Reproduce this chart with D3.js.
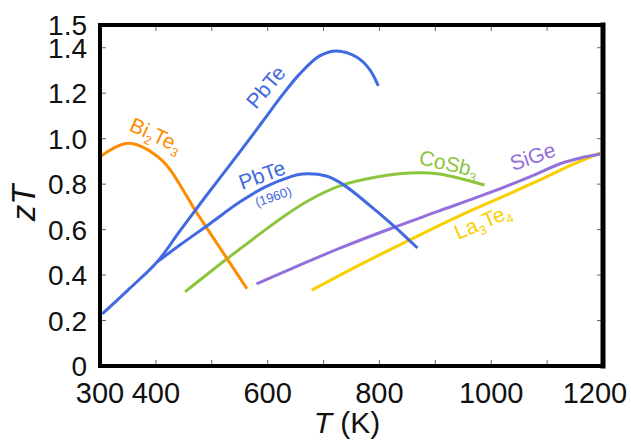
<!DOCTYPE html>
<html>
<head>
<meta charset="utf-8">
<script src="https://cdn.jsdelivr.net/npm/d3@7"></script>
<style>
	body { margin: 0; background: #fff; }
	svg text { font-family: "Liberation Sans", Arial, sans-serif; }
</style>
</head>
<body>
<svg id="chart" width="631" height="442"></svg>
<script>
	// values (T in K, zT)
	var pbteT = [304, 350, 402, 443, 487, 550, 589, 625, 657, 693, 723, 759, 782, 798];
	var pbteZT = [0.229, 0.334, 0.457, 0.594, 0.739, 0.941, 1.069, 1.188, 1.284, 1.364, 1.386, 1.359, 1.306, 1.232];

	var pbte1960T = [402, 443, 496, 550, 595, 639, 662, 705, 734, 782, 830, 868];
	var pbte1960ZT = [0.457, 0.532, 0.625, 0.721, 0.787, 0.831, 0.845, 0.836, 0.80, 0.708, 0.607, 0.519];

	var bi2te3T = [300, 350, 411, 452, 470, 493, 529, 563];
	var bi2te3ZT = [0.92, 0.98, 0.905, 0.76, 0.686, 0.60, 0.466, 0.34];

	var cosb3T = [452, 529, 586, 630, 675, 729, 795, 854, 907, 988];
	var cosb3ZT = [0.326, 0.475, 0.581, 0.660, 0.730, 0.792, 0.831, 0.849, 0.845, 0.796];

	var sigeT = [580, 645, 734, 823, 907, 991, 1068, 1127, 1166, 1195];
	var sigeZT = [0.361, 0.431, 0.523, 0.607, 0.682, 0.757, 0.831, 0.893, 0.919, 0.933];

	var la3te4T = [679, 764, 854, 943, 1032, 1098, 1148, 1195];
	var la3te4ZT = [0.334, 0.444, 0.554, 0.660, 0.757, 0.831, 0.889, 0.937];

	var xTickVals = [400, 500, 600, 700, 800, 900, 1000, 1100];
	var xLabelVals = [300, 400, 600, 800, 1000, 1200];
	var yTickVals = [0.2, 0.4, 0.6, 0.8, 1.0, 1.2, 1.4];
	var yLabelVals = [0, 0.2, 0.4, 0.6, 0.8, 1.0, 1.2, 1.4, 1.5];

	var margin = {top: 25, right: 28, bottom: 76, left: 100},
		width = 631 - margin.left - margin.right,
		height = 442 - margin.top - margin.bottom;

	var svg = d3.select('#chart');

	var x = d3.scaleLinear().domain([300, 1200]).range([margin.left, margin.left + width]);
	var y = d3.scaleLinear().domain([0, 1.5]).range([margin.top + height, margin.top]);

	function zip(ts, zs) {
		return ts.map(function (t, i) {
			return {t: t, z: zs[i]};
		});
	}

	var line = d3.line()
		.curve(d3.curveCatmullRom.alpha(0.5))
		.x(function (d) { return x(d.t); })
		.y(function (d) { return y(d.z); });

	var series = [
		{data: zip(cosb3T, cosb3ZT), color: '#8cc63f'},
		{data: zip(la3te4T, la3te4ZT), color: '#f9cf00'},
		{data: zip(sigeT, sigeZT), color: '#9370db'},
		{data: zip(bi2te3T, bi2te3ZT), color: '#ff8c00'},
		{data: zip(pbte1960T, pbte1960ZT), color: '#4169e1'},
		{data: zip(pbteT, pbteZT), color: '#4169e1'}
	];

	// ticks, inward on all four sides
	var tickLen = 6;
	var ticks = svg.append('g').attr('stroke', '#666').attr('stroke-width', 1);
	xTickVals.forEach(function (v) {
		ticks.append('line').attr('x1', x(v)).attr('x2', x(v))
			.attr('y1', y(0)).attr('y2', y(0) - tickLen);
		ticks.append('line').attr('x1', x(v)).attr('x2', x(v))
			.attr('y1', y(1.5)).attr('y2', y(1.5) + tickLen);
	});
	yTickVals.forEach(function (v) {
		ticks.append('line').attr('y1', y(v)).attr('y2', y(v))
			.attr('x1', x(300)).attr('x2', x(300) + tickLen);
		ticks.append('line').attr('y1', y(v)).attr('y2', y(v))
			.attr('x1', x(1200)).attr('x2', x(1200) - tickLen);
	});

	svg.append('g').selectAll('path')
		.data(series)
		.enter().append('path')
		.attr('fill', 'none')
		.attr('stroke', function (d) { return d.color; })
		.attr('stroke-width', 3)
		.attr('stroke-linejoin', 'round')
		.attr('d', function (d) { return line(d.data); });

	// frame
	var frame = svg.append('g').attr('stroke', '#000').attr('stroke-linecap', 'square');
	frame.append('line').attr('x1', x(300)).attr('x2', x(1200)).attr('y1', y(0)).attr('y2', y(0)).attr('stroke-width', 4);
	frame.append('line').attr('x1', x(300)).attr('x2', x(1200)).attr('y1', y(1.5)).attr('y2', y(1.5)).attr('stroke-width', 4);
	frame.append('line').attr('x1', x(300)).attr('x2', x(300)).attr('y1', y(0)).attr('y2', y(1.5)).attr('stroke-width', 4);
	frame.append('line').attr('x1', x(1200)).attr('x2', x(1200)).attr('y1', y(0)).attr('y2', y(1.5)).attr('stroke-width', 5);

	// tick labels
	svg.append('g').selectAll('text')
		.data(yLabelVals)
		.enter().append('text')
		.attr('x', 87)
		.attr('y', function (d) { return y(d) + 10; })
		.attr('text-anchor', 'end')
		.attr('font-size', 28)
		.attr('fill', '#111')
		.text(function (d) { return d === 0 ? '0' : d3.format('.1f')(d); });

	svg.append('g').selectAll('text')
		.data(xLabelVals)
		.enter().append('text')
		.attr('x', function (d) { return d === 1200 ? x(d) - 8 : x(d); })
		.attr('y', 403)
		.attr('text-anchor', 'middle')
		.attr('font-size', 29)
		.attr('fill', '#111')
		.text(function (d) { return d; });

	// axis titles
	var yt = svg.append('text')
		.attr('transform', 'translate(35,203) rotate(-90)')
		.attr('text-anchor', 'middle')
		.attr('font-size', 33)
		.attr('fill', '#111');
	yt.append('tspan').attr('font-style', 'italic').text('zT');

	var xt = svg.append('text')
		.attr('x', 347)
		.attr('y', 433)
		.attr('text-anchor', 'middle')
		.attr('font-size', 30)
		.attr('fill', '#111');
	xt.append('tspan').attr('font-style', 'italic').text('T');
	xt.append('tspan').text(' (K)');

	// curve labels with subscripts
	function label(parts, px, py, angle, color, size) {
		var t = svg.append('text')
			.attr('transform', 'translate(' + px + ',' + py + ') rotate(' + angle + ')')
			.attr('font-size', size)
			.attr('fill', color);
		var shifted = false;
		parts.forEach(function (p) {
			var s = t.append('tspan').text(p[0]);
			if (p[1]) {
				s.attr('font-size', size * 0.6).attr('dy', shifted ? 0 : 5);
				shifted = true;
			} else if (shifted) {
				s.attr('dy', -5);
				shifted = false;
			}
		});
	}

	label([['PbTe']], 256, 110, -50, '#4169e1', 21);
	label([['Bi'], ['2', true], ['Te'], ['3', true]], 128, 130, 25, '#ff8c00', 21);
	label([['PbTe']], 242, 190, -20, '#4169e1', 21);
	label([['(1960)']], 257, 207, -19, '#4169e1', 13);
	label([['CoSb'], ['3', true]], 418, 164, 13, '#8cc63f', 21);
	label([['SiGe']], 513, 171, -19, '#9370db', 21);
	label([['La'], ['3', true], ['Te'], ['4', true]], 458, 240, -23, '#f9cf00', 21);
</script>
</body>
</html>
